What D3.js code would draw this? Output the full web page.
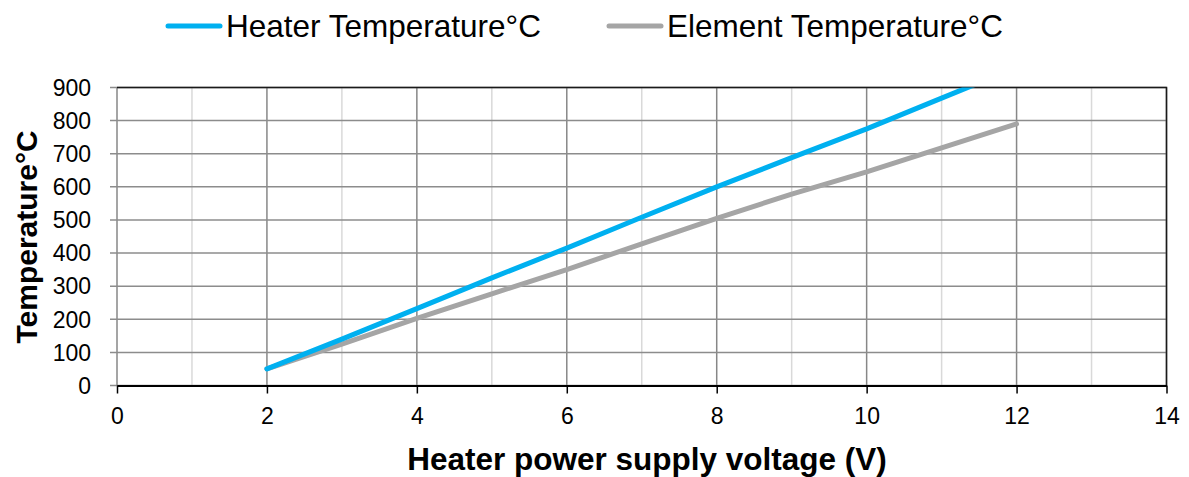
<!DOCTYPE html>
<html>
<head>
<meta charset="utf-8">
<script src="https://cdn.jsdelivr.net/npm/d3@7"></script>
<style>
    body { margin: 0; background: #fff; }
    svg { display: block; font-family: "Liberation Sans", Arial, sans-serif; }
</style>
</head>
<body>
<div id="chart"></div>
<script>

// Data.
let voltages     = [2, 3, 4, 5, 6, 7, 8, 9, 10, 11, 12];
let heaterTemps  = [50, 140, 232, 325, 415, 508, 600, 688, 775, 868, 960];
let elementTemps = [50, 125, 203, 277, 350, 428, 505, 578, 645, 718, 790];
let seriesNames  = ["Heater Temperature°C", "Element Temperature°C"];
let seriesColors = ["#00B0F0", "#A5A5A5"];
let xTicks = [0, 2, 4, 6, 8, 10, 12, 14];
let xMinor = [1, 3, 5, 7, 9, 11, 13];
let yTicks = [0, 100, 200, 300, 400, 500, 600, 700, 800, 900];

let width = 1189, height = 477;
let margin = {top: 87.5, right: 22.5, bottom: 91.5, left: 117};
let xwidth  = width - margin.left - margin.right;
let yheight = height - margin.top - margin.bottom;

let svg = d3.select("#chart")
    .append("svg")
        .attr("width", width)
        .attr("height", height);

let g = svg.append("g")
    .attr("transform", "translate(" + margin.left + "," + margin.top + ")");

let x = d3.scaleLinear().domain([0, 14]).range([0, xwidth]);
let y = d3.scaleLinear().domain([0, 900]).range([yheight, 0]);

// Minor vertical gridlines
g.append("g")
    .selectAll("line")
    .data(xMinor)
    .enter().append("line")
        .attr("x1", d => x(d)).attr("x2", d => x(d))
        .attr("y1", 0).attr("y2", yheight)
        .attr("stroke", "#d9d9d9")
        .attr("stroke-width", 1.5);

// Major vertical gridlines
g.append("g")
    .selectAll("line")
    .data(xTicks)
    .enter().append("line")
        .attr("x1", d => x(d)).attr("x2", d => x(d))
        .attr("y1", 0).attr("y2", yheight)
        .attr("stroke", "#878787")
        .attr("stroke-width", 1.5);

// Horizontal gridlines, stretched a little left as tick marks
g.append("g")
    .selectAll("line")
    .data(yTicks)
    .enter().append("line")
        .attr("x1", -7).attr("x2", xwidth)
        .attr("y1", d => y(d)).attr("y2", d => y(d))
        .attr("stroke", "#8c8c8c")
        .attr("stroke-width", 1.5);

// Top and right border
g.append("path")
    .attr("d", "M0,0H" + xwidth + "V" + yheight)
    .attr("fill", "none")
    .attr("stroke", "#1a1a1a")
    .attr("stroke-width", 1.5);

// Clip lines to the plot area
svg.append("clipPath")
    .attr("id", "plot-clip")
  .append("rect")
    .attr("x", -3).attr("y", 0)
    .attr("width", xwidth + 6)
    .attr("height", yheight + 6);

let line = d3.line()
    .x(d => x(d[0]))
    .y(d => y(d[1]));

let series = [heaterTemps, elementTemps];

g.append("g")
    .attr("clip-path", "url(#plot-clip)")
    .selectAll("path")
    .data([1, 0])
    .enter().append("path")
        .attr("d", i => line(voltages.map((v, k) => [v, series[i][k]])))
        .attr("fill", "none")
        .attr("stroke", i => seriesColors[i])
        .attr("stroke-width", 5)
        .attr("stroke-linecap", "round")
        .attr("stroke-linejoin", "round");

// X axis
let xAxis = g.append("g")
    .attr("transform", "translate(0," + yheight + ")")
    .call(d3.axisBottom(x).tickValues(xTicks).tickSize(8).tickPadding(14).tickSizeOuter(0));
xAxis.select(".domain").attr("stroke", "#000").attr("stroke-width", 2);
xAxis.selectAll(".tick line").attr("stroke", "#000").attr("stroke-width", 1.5);
xAxis.selectAll("text")
    .attr("font-size", 23)
    .attr("fill", "#000")
    .attr("font-family", "Liberation Sans, Arial, sans-serif");

// Y axis labels
g.append("g")
    .selectAll("text")
    .data(yTicks)
    .enter().append("text")
        .attr("x", -26)
        .attr("y", d => y(d))
        .attr("dy", "0.36em")
        .attr("text-anchor", "end")
        .attr("font-size", 23)
        .attr("fill", "#000")
        .text(d => d);

// Axis titles
svg.append("text")
    .attr("x", 647)
    .attr("y", 470)
    .attr("text-anchor", "middle")
    .attr("font-size", 31.5)
    .attr("font-weight", "bold")
    .text("Heater power supply voltage (V)");

svg.append("text")
    .attr("transform", "translate(37," + 237 + ") rotate(-90)")
    .attr("text-anchor", "middle")
    .attr("font-size", 30)
    .attr("font-weight", "bold")
    .text("Temperature°C");

// Legend
let legendX = [166, 607];
let legend = svg.append("g")
    .selectAll("g")
    .data(seriesNames)
    .enter().append("g")
        .attr("transform", (d, i) => "translate(" + legendX[i] + ",26)");

legend.append("line")
    .attr("x1", 2).attr("x2", 54)
    .attr("y1", 0).attr("y2", 0)
    .attr("stroke", (d, i) => seriesColors[i])
    .attr("stroke-width", 5)
    .attr("stroke-linecap", "round");

legend.append("text")
    .attr("x", 60)
    .attr("dy", "0.36em")
    .attr("font-size", 31.5)
    .attr("fill", "#000")
    .text(d => d);

</script>
</body>
</html>
